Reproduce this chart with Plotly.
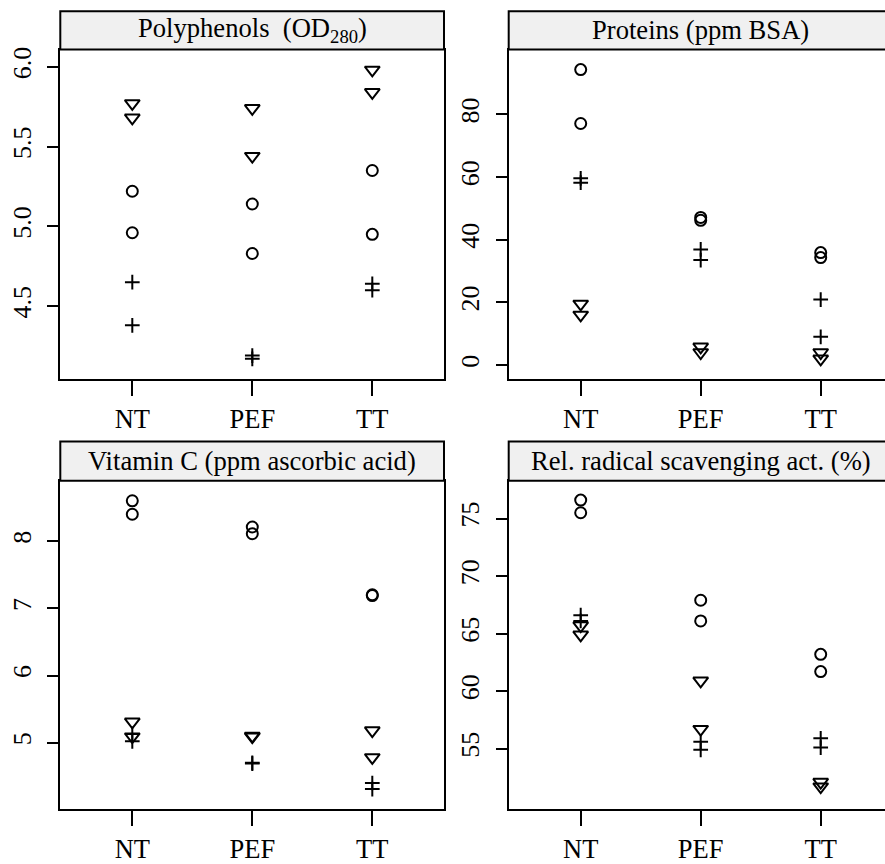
import plotly.graph_objects as go

W, H = 885, 864

# ---------------- data ----------------
categories = ["NT", "PEF", "TT"]
x_rep = ["NT", "NT", "PEF", "PEF", "TT", "TT"]

panel_titles = [
    "Polyphenols  (OD<sub>280</sub>)",
    "Proteins (ppm BSA)",
    "Vitamin C (ppm ascorbic acid)",
    "Rel. radical scavenging act. (%)",
]

# Polyphenols (OD280)
poly_circle = [5.22, 4.96, 5.14, 4.83, 5.35, 4.95]
poly_plus = [4.65, 4.38, 4.19, 4.17, 4.64, 4.60]
poly_triangle = [5.77, 5.68, 5.74, 5.44, 5.98, 5.84]

# Proteins (ppm BSA)
prot_circle = [94.3, 77.1, 47.1, 46.2, 35.9, 34.3]
prot_plus = [59.6, 58.2, 36.9, 33.5, 20.9, 9.0]
prot_triangle = [19.5, 16.0, 5.8, 4.0, 4.0, 2.0]

# Vitamin C (ppm ascorbic acid)
vitc_circle = [8.60, 8.40, 8.21, 8.11, 7.20, 7.19]
vitc_plus = [5.13, 5.02, 4.70, 4.69, 4.40, 4.31]
vitc_triangle = [5.31, 5.09, 5.10, 5.09, 5.18, 4.78]

# Rel. radical scavenging act. (%)
rsa_circle = [76.6, 75.5, 67.9, 66.1, 63.2, 61.7]
rsa_plus = [66.6, 66.1, 55.6, 54.9, 55.9, 55.1]
rsa_triangle = [65.7, 64.9, 60.9, 56.7, 52.1, 51.7]

y_ticks = [
    [4.5, 5.0, 5.5, 6.0],
    [0, 20, 40, 60, 80],
    [5, 6, 7, 8],
    [55, 60, 65, 70, 75],
]
y_ticktext = [
    ["4.5", "5.0", "5.5", "6.0"],
    ["0", "20", "40", "60", "80"],
    ["5", "6", "7", "8"],
    ["55", "60", "65", "70", "75"],
]
y_ranges = [
    [4.041, 6.108],
    [-4.58, 100.7],
    [4.006, 8.90],
    [49.72, 78.29],
]

panels = [
    (poly_circle, poly_plus, poly_triangle),
    (prot_circle, prot_plus, prot_triangle),
    (vitc_circle, vitc_plus, vitc_triangle),
    (rsa_circle, rsa_plus, rsa_triangle),
]

# ---------------- layout geometry (pixels) ----------------
FONT = "Liberation Serif"
left_px = [60.3, 508.7, 60.3, 508.7]
right_px = [444.0, 892.7, 444.0, 892.7]   # right panels run past the image edge
plot_top_px = [46.7, 46.7, 479.3, 479.3]
plot_bot_px = [377.7, 377.7, 809.3, 809.3]
strip_top_px = [8.3, 8.3, 440.0, 440.0]
unit_px = 120.0

fig = go.Figure()

marker_styles = [
    dict(symbol="circle-open", size=11, line=dict(width=2, color="black"), color="black"),
    dict(symbol="cross-thin-open", size=10.5, line=dict(width=2, color="black"), color="black"),
    dict(symbol="triangle-down-open", size=13, line=dict(width=2, color="black"), color="black"),
]

layout = dict(
    width=W, height=H,
    margin=dict(l=0, r=0, t=0, b=0),
    paper_bgcolor="white", plot_bgcolor="white",
    showlegend=False,
    font=dict(family=FONT, color="black", size=26),
)

shapes = []
annotations = []

for i, (circ, plus, tri) in enumerate(panels):
    ax = "" if i == 0 else str(i + 1)
    for vals, ms in zip((circ, plus, tri), marker_styles):
        fig.add_trace(go.Scatter(
            x=x_rep, y=vals, mode="markers", marker=ms,
            xaxis="x" + ax, yaxis="y" + ax, cliponaxis=False,
        ))
    x0 = left_px[i] / W
    x1 = min(right_px[i], W) / W
    clipped = right_px[i] > W
    xr_right = -0.6 + (min(right_px[i], W) - left_px[i]) / unit_px
    y0 = 1 - plot_bot_px[i] / H
    y1 = 1 - plot_top_px[i] / H
    layout["xaxis" + ax] = dict(
        domain=[x0, x1], anchor="y" + ax,
        type="category", categoryorder="array", categoryarray=categories,
        range=[-0.6, xr_right],
        showline=True, linecolor="black", linewidth=2, mirror=True,
        ticks="outside", ticklen=15, tickwidth=2, tickcolor="black",
        tickfont=dict(family=FONT, size=26.5, color="black"),
        showgrid=False, zeroline=False, fixedrange=True,
    )
    layout["yaxis" + ax] = dict(
        domain=[y0, y1], anchor="x" + ax,
        range=y_ranges[i],
        tickmode="array", tickvals=y_ticks[i], ticktext=y_ticktext[i],
        tickangle=-90,
        showline=True, linecolor="black", linewidth=2, mirror=(not clipped),
        ticks="outside", ticklen=11, tickwidth=2, tickcolor="black",
        ticklabelstandoff=6,
        tickfont=dict(family=FONT, size=26, color="black"),
        showgrid=False, zeroline=False, fixedrange=True,
    )
    # strip header
    shapes.append(dict(
        type="rect", xref="paper", yref="paper",
        x0=left_px[i] / W, x1=right_px[i] / W,
        y0=1 - plot_top_px[i] / H, y1=1 - strip_top_px[i] / H,
        fillcolor="#f0f0f0", line=dict(color="black", width=2), layer="above",
    ))
    annotations.append(dict(
        xref="paper", yref="paper",
        x=(left_px[i] + right_px[i]) / 2 / W,
        y=1 - (plot_top_px[i] + strip_top_px[i]) / 2 / H,
        text=panel_titles[i], showarrow=False,
        xanchor="center", yanchor="middle",
        font=dict(family=FONT, size=26.6, color="black"),
    ))

layout["shapes"] = shapes
layout["annotations"] = annotations
fig.update_layout(**layout)

fig.write_html("out.html", config={"displayModeBar": False})
